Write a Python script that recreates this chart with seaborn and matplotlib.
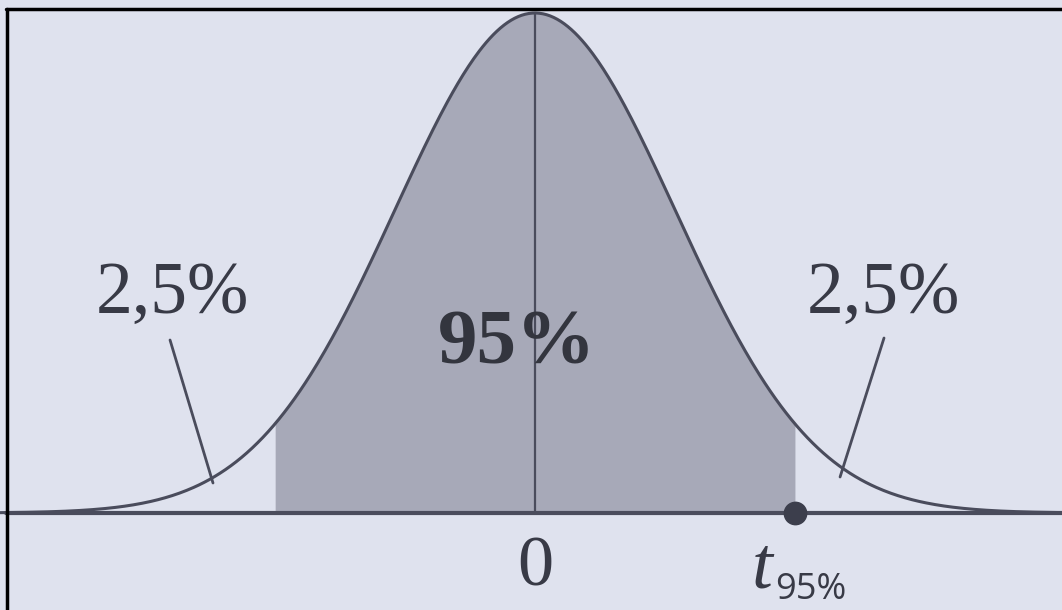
import numpy as np
import pandas as pd
import matplotlib
matplotlib.use("Agg")
import matplotlib.pyplot as plt
import seaborn as sns
from matplotlib.lines import Line2D

# chart values
mean = 0.0
sigma = 1.0
t_crit = 1.86                      # position of t95% (two-sided 95%)
area_labels = ["2,5%", "95%", "2,5%"]
tick_labels = ["0", "t", "95%"]

# curve (standard normal density, scaled to peak 1)
z = np.linspace(-3.82, 3.77, 600)
df = pd.DataFrame({"z": z, "h": np.exp(-0.5 * ((z - mean) / sigma) ** 2)})

bg = "#dfe2ee"
shade = "#a7a9b8"
ink = "#4a4c5c"

sns.set_theme(style="white")
plt.rcParams["font.family"] = ["Liberation Serif", "DejaVu Serif"]

fig = plt.figure(figsize=(10.62, 6.10), dpi=100, facecolor=bg)
ax = fig.add_axes([0, 0, 1, 1])
ax.set_facecolor(bg)

mid = df[(df["z"] >= -t_crit) & (df["z"] <= t_crit)]
ax.fill_between(mid["z"], 0, mid["h"], color=shade, lw=0)
sns.lineplot(data=df, x="z", y="h", ax=ax, color=ink, lw=2.2)
ax.plot([-3.78, 3.77], [0, 0], color=ink, lw=3)
ax.plot([mean, mean], [0, 1], color=ink, lw=1.6)
ax.scatter([t_crit], [0], s=260, color="#3c3e4c", zorder=5)

# pointer lines to the tails
ax.plot([-2.607, -2.30], [0.346, 0.06], color=ink, lw=2)
ax.plot([2.493, 2.179], [0.35, 0.072], color=ink, lw=2)

ax.text(-2.59, 0.40, area_labels[0], ha="center", va="baseline",
        fontsize=53, color="#383a46")
ax.text(2.49, 0.40, area_labels[2], ha="center", va="baseline",
        fontsize=53, color="#383a46")
ax.text(-0.13, 0.30, area_labels[1], ha="center", va="baseline",
        fontsize=57, fontweight="bold", color="#33353e")
ax.text(mean, -0.144, tick_labels[0], ha="center", va="baseline",
        fontsize=52, color="#383a46")
ax.text(1.62, -0.148, tick_labels[1], ha="center", va="baseline",
        fontsize=54, style="italic", color="#383a46")
ax.text(1.97, -0.172, tick_labels[2], ha="center", va="baseline",
        fontsize=26, family=["Open Sans", "DejaVu Sans"], color="#383a46")

ax.set_xlim(-535 / 140, 527 / 140)
ax.set_ylim(-97 / 500, 513 / 500)
ax.axis("off")

# scan frame (top and left edges)
fig.add_artist(Line2D([0.006, 1], [0.985, 0.985], color="black", lw=2.5))
fig.add_artist(Line2D([0.007, 0.007], [0, 0.985], color="black", lw=2.5))

fig.savefig("out.png", dpi=100, facecolor=bg)
